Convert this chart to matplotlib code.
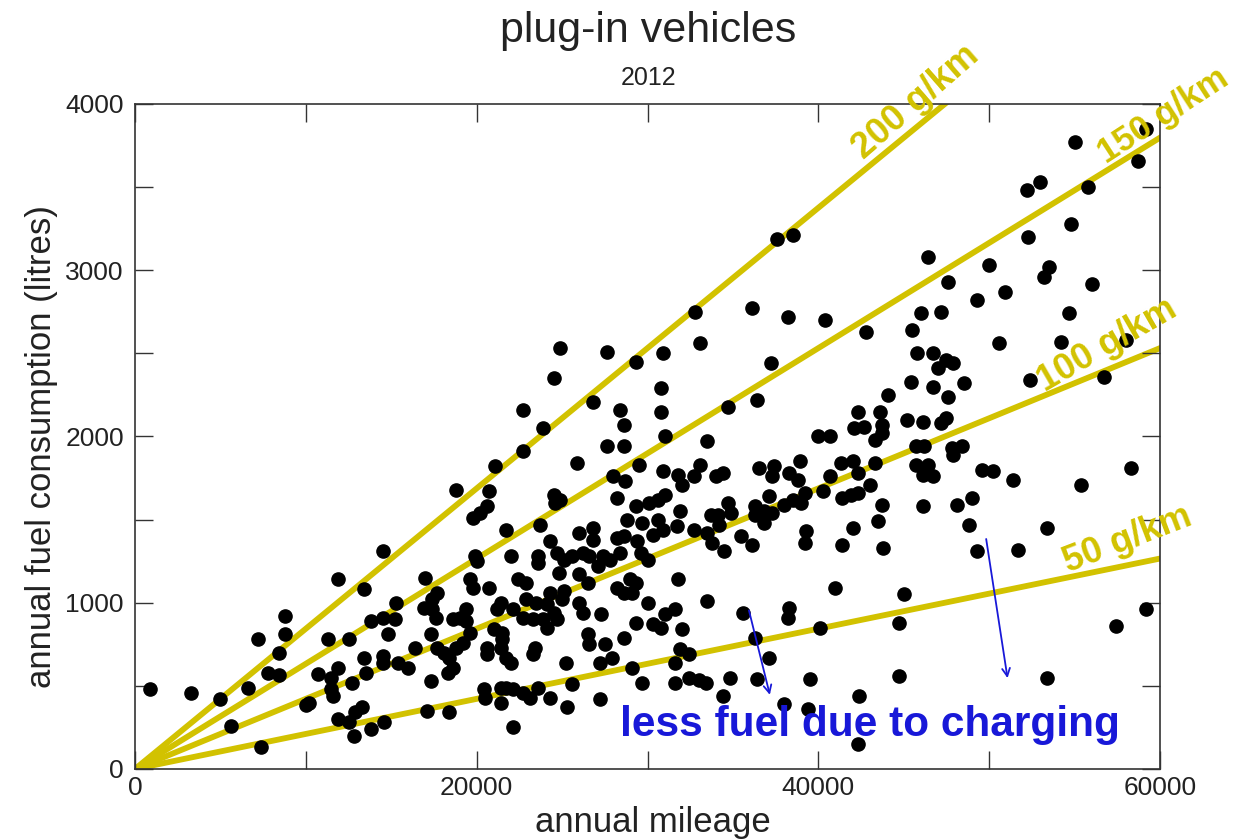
import numpy as np
import matplotlib.pyplot as plt
from matplotlib.ticker import MultipleLocator

plt.rcParams['font.family'] = ['Liberation Sans', 'DejaVu Sans']

# annual mileage (km) and annual fuel consumption (litres)
mileage = [
    14500, 11900, 13400, 8800, 8800, 7200, 11300, 12500, 13800, 14500, 14800, 8400, 7800, 8400,
    6600, 10700, 11900, 11500, 11500, 11600, 12700, 13400, 14500, 13500, 14500, 900, 3300, 5000,
    10000, 10200, 5600, 7400, 11900, 12500, 12900, 13300, 12800, 13800, 14600,
    24900, 27600, 29300, 24500, 26800, 22700, 28400, 28600, 23900, 22700, 27600, 28600, 25900,
    29500, 21100, 18800, 20700, 28000, 28700, 24500, 24900, 24600, 28200, 29300, 20600, 20200,
    19800, 21700, 23700, 28800, 29700, 24300, 26000, 26800, 26800, 28200, 28600, 29400,
    19900, 20000, 22000, 23600, 23600, 24700, 25100, 25600, 26200, 26600, 27400, 27800, 28400,
    29600, 24800, 17000, 19600, 19800, 20700, 22400, 22900, 26000, 26500, 27100, 29000, 29300,
    28200, 28600, 29100, 17700, 17400, 16900, 17400, 17600, 15300, 15200, 18600, 19000, 19400,
    19400, 21400, 21200, 22100, 22900, 23500, 24300, 25100, 25000, 24100, 24500, 22700, 23300,
    23900, 24100, 24700, 26000, 26200, 27300, 29300, 17300, 19600, 19200, 18800, 17700, 18100,
    18400, 16400, 21000, 21500, 20600, 20600, 21400, 21500, 21700, 22000, 23400, 23300, 25200,
    26500, 26600, 27500, 28600, 27200, 27900, 29100, 29700, 15400, 16000, 18600, 18300, 17300,
    20400, 20500, 21400, 21700, 22100, 22700, 23100, 23600, 24300, 25600, 21400, 25300, 27200,
    17100, 18400, 22100,
    33100, 30900, 37200, 42800, 30800, 34700, 36400, 44100, 30800, 42300, 43600, 43700, 42100,
    42700, 43300, 43700, 40000, 40700, 31000, 33500, 33100, 30900, 31800, 32700, 34000, 34400,
    32000, 36500, 37400, 37300, 38900, 38300, 38800, 41300, 42000, 42300, 43300, 40700, 43000,
    39200, 40300, 41400, 41900, 42300, 43700, 43500, 42000, 30100, 31000, 30600, 31900, 34700,
    34900, 33700, 34100, 34200, 36300, 37100, 36800, 37300, 38000, 38500, 39000, 36300, 36800,
    32700, 33500, 33800, 35500, 36100, 30600, 30900, 31700, 30300, 39300, 39200, 41400, 43800,
    34500, 30000, 31800, 41000, 33500, 30000, 31000, 31600, 30300, 30800, 32000, 35600, 38300,
    38200, 40100, 36300, 37100, 31900, 32400, 31600, 44700, 31600, 32400, 33000, 33400, 34800,
    36400, 39500, 44700, 34400, 38000, 39400, 42400, 42300,
    37600, 38500, 32800, 36100, 38200, 40400,
    59200, 55000, 58700, 52200, 53000, 55800, 54800, 52300, 46400, 50000, 47600, 53500, 53200,
    56000, 50900, 49300, 46000, 47200, 54700, 45500,
    50600, 54200, 58000, 45800, 46700, 47500, 47900, 47000, 45400, 46700, 48500, 52400, 56700,
    47600, 45200, 46100, 47200, 47500, 45700, 46200, 47800, 48400, 47900, 45700, 46400, 46100,
    46700, 49600, 50200, 51400, 55400, 58300, 46100, 48100, 49000, 48800, 53400, 49300, 51700,
    45000, 57400, 59200, 53400,
]
fuel = [
    1310, 1140, 1080, 920, 810, 780, 780, 780, 890, 910, 810, 700, 580, 565,
    490, 570, 610, 550, 480, 440, 520, 670, 680, 580, 640, 480, 460, 420,
    385, 400, 260, 130, 300, 280, 340, 370, 200, 240, 280,
    2530, 2510, 2450, 2350, 2210, 2160, 2160, 2070, 2050, 1910, 1940, 1940, 1840,
    1830, 1820, 1680, 1670, 1760, 1730, 1650, 1620, 1600, 1630, 1580, 1580, 1540,
    1510, 1440, 1470, 1500, 1480, 1370, 1420, 1450, 1380, 1390, 1400, 1370,
    1280, 1250, 1280, 1280, 1240, 1300, 1260, 1280, 1300, 1280, 1280, 1260, 1300,
    1300, 1180, 1150, 1140, 1090, 1090, 1140, 1120, 1170, 1120, 1220, 1140, 1120,
    1090, 1060, 1060, 1060, 1020, 970, 960, 910, 1000, 900, 900, 910, 960,
    890, 1000, 960, 960, 1020, 1000, 1060, 1070, 1020, 990, 940, 910, 900,
    900, 850, 900, 1000, 940, 930, 880, 810, 820, 760, 730, 730, 700,
    670, 730, 840, 820, 730, 690, 730, 780, 670, 640, 730, 690, 640,
    810, 750, 750, 790, 640, 670, 610, 520, 640, 610, 610, 580, 530,
    480, 430, 490, 490, 480, 460, 430, 490, 430, 510, 400, 370, 420,
    350, 340, 250,
    2560, 2500, 2440, 2630, 2290, 2180, 2220, 2250, 2150, 2150, 2150, 2070, 2050,
    2060, 1980, 2020, 2000, 2000, 2000, 1970, 1830, 1790, 1770, 1760, 1760, 1780,
    1710, 1810, 1820, 1760, 1850, 1780, 1740, 1840, 1850, 1780, 1840, 1760, 1710,
    1660, 1670, 1630, 1650, 1660, 1590, 1490, 1450, 1600, 1650, 1620, 1550, 1600,
    1540, 1530, 1530, 1470, 1580, 1640, 1550, 1540, 1590, 1620, 1600, 1530, 1480,
    1440, 1420, 1360, 1400, 1350, 1500, 1440, 1460, 1410, 1430, 1360, 1350, 1330,
    1310, 1260, 1140, 1090, 1010, 1000, 930, 960, 870, 850, 840, 940, 970,
    910, 850, 790, 670, 720, 690, 640, 880, 520, 550, 535, 520, 550,
    540, 540, 560, 440, 390, 360, 440, 150,
    3190, 3210, 2750, 2770, 2720, 2700,
    3850, 3770, 3660, 3480, 3530, 3500, 3280, 3200, 3080, 3030, 2930, 3020, 2960,
    2920, 2870, 2820, 2740, 2750, 2740, 2640,
    2560, 2570, 2580, 2500, 2500, 2460, 2440, 2410, 2330, 2300, 2320, 2340, 2360,
    2240, 2100, 2090, 2080, 2110, 1940, 1940, 1930, 1940, 1890, 1830, 1830, 1770,
    1760, 1800, 1790, 1740, 1710, 1810, 1580, 1590, 1630, 1470, 1450, 1310, 1320,
    1050, 860, 960, 550,
]

# CO2 reference lines, g/km (petrol, ~2370 g CO2 per litre)
co2_rates = [200, 150, 100, 50]
g_per_litre = 2370
line_labels = ['200 g/km', '150 g/km', '100 g/km', '50 g/km']
label_x = [45700, 60200, 56900, 58100]
label_y = [4010, 3930, 2550, 1380]
label_rot = [41, 33, 30, 21]
label_size = [26, 25, 26, 26]

yellow = '#d2c200'
blue = '#1818d8'

fig = plt.figure(figsize=(12.4, 8.39), dpi=100)
ax = fig.add_axes([135 / 1240, 70 / 839, 1025 / 1240, 665 / 839])

xs = np.array([0, 60000])
for rate in co2_rates:
    ax.plot(xs, xs * rate / g_per_litre, color=yellow, lw=4.2, zorder=1)

ax.plot(mileage, fuel, 'o', color='black', markersize=9.5, zorder=2)

for lab, lx, ly, rot, fs in zip(line_labels, label_x, label_y, label_rot, label_size):
    ax.text(lx, ly, lab, color=yellow, fontsize=fs, fontweight='bold', rotation=rot,
            ha='center', va='center', clip_on=False, zorder=3)

# arrows: less fuel due to charging
ax.annotate('', xy=(37200, 430), xytext=(35900, 970),
            arrowprops=dict(arrowstyle='->', color=blue, lw=1.3, mutation_scale=14))
ax.annotate('', xy=(51100, 530), xytext=(49800, 1400),
            arrowprops=dict(arrowstyle='->', color=blue, lw=1.3, mutation_scale=14))
ax.text(43000, 265, 'less fuel due to charging', color=blue, fontsize=30.5,
        fontweight='bold', ha='center', va='center')

ax.set_xlim(0, 60000)
ax.set_ylim(0, 4000)
ax.xaxis.set_major_locator(MultipleLocator(20000))
ax.xaxis.set_minor_locator(MultipleLocator(10000))
ax.yaxis.set_major_locator(MultipleLocator(1000))
ax.yaxis.set_minor_locator(MultipleLocator(500))
ax.tick_params(which='both', direction='in', top=True, right=True, length=13,
               width=1, color='#333333', labelsize=19, labelcolor='#222222')
ax.tick_params(axis='x', pad=5)
ax.tick_params(axis='y', pad=8)
for sp in ax.spines.values():
    sp.set_linewidth(1.2)
    sp.set_color('#333333')

ax.set_xlabel('annual mileage', fontsize=25, color='#222222')
ax.set_ylabel('annual fuel consumption (litres)', fontsize=25, color='#222222')
ax.xaxis.set_label_coords(0.505, -0.055)
ax.yaxis.set_label_coords(-0.075, 0.485)

fig.text(0.523, 0.963, 'plug-in vehicles', ha='center', va='center', fontsize=31, color='#222222')
fig.text(0.523, 0.907, '2012', ha='center', va='center', fontsize=18, color='#222222')

fig.savefig('out.png', dpi=100)
